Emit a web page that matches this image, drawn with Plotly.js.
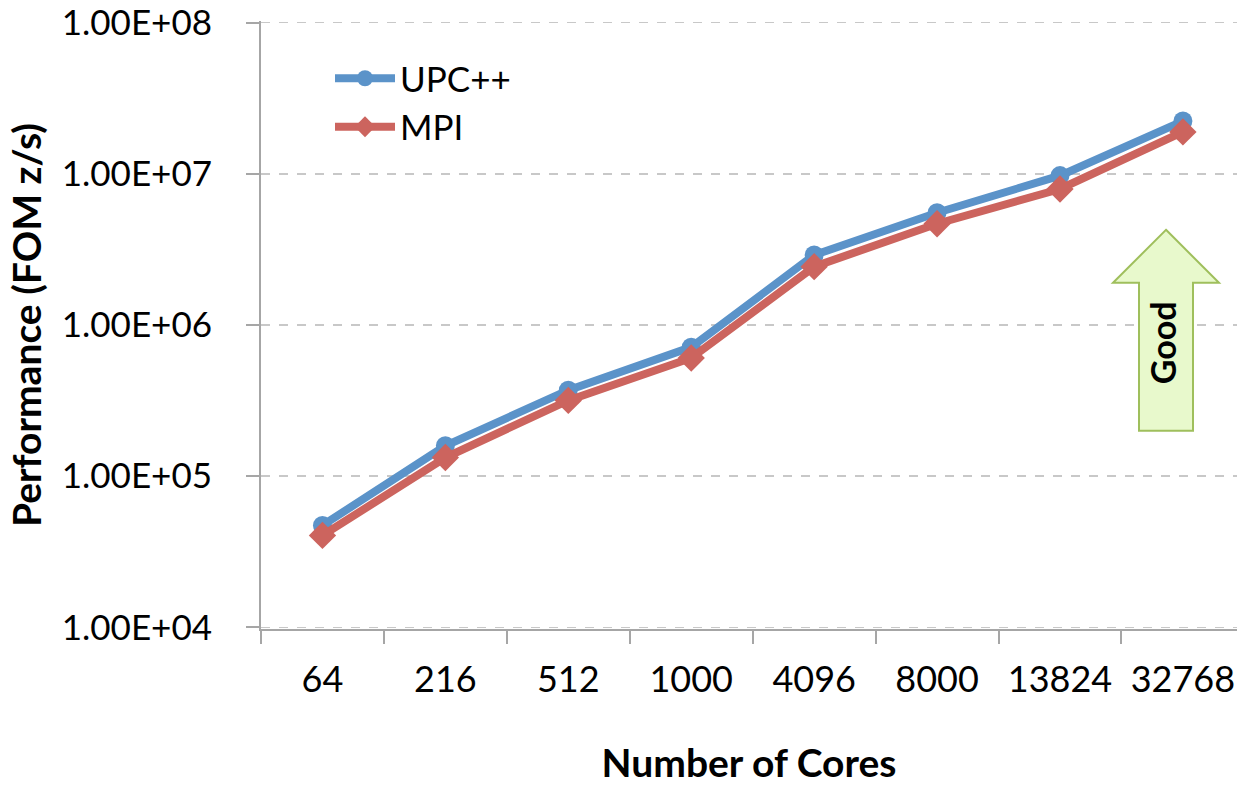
<!DOCTYPE html>
<html>
<head>
<meta charset="utf-8">
<script src="https://cdn.plot.ly/plotly-3.0.1.min.js"></script>
<style>html,body{margin:0;padding:0;background:#fff}#chart{width:1237px;height:785px}</style>
</head>
<body>
<div id="chart"></div>
<script>
var cores = ["64", "216", "512", "1000", "4096", "8000", "13824", "32768"];
var upcxx = [47300, 159000, 371000, 714000, 2900000, 5520000, 9720000, 22300000];
var mpi   = [40600, 133000, 317000, 605000, 2430000, 4670000, 7930000, 18900000];
var yTickVals = [1e4, 1e5, 1e6, 1e7, 1e8];
var yTickText = ["1.00E+04", "1.00E+05", "1.00E+06", "1.00E+07", "1.00E+08"];
var seriesNames = ["UPC++", "MPI"];

var W = 1237, H = 785;
var mL = 261, mR = 0, mT = 21, mB = 155.5;
var pw = W - mL - mR, ph = H - mT - mB;
function px(X){ return (X - mL) / pw; }
function py(Y){ return (H - mB - Y) / ph; }

var FONT = "Lato, 'Open Sans', sans-serif";

var traces = [
  {
    x: cores, y: upcxx, name: seriesNames[0], type: "scatter", mode: "lines+markers",
    line: {color: "#5b93c9", width: 8},
    marker: {symbol: "circle", size: 19, color: "#5b93c9"}
  },
  {
    x: cores, y: mpi, name: seriesNames[1], type: "scatter", mode: "lines+markers",
    line: {color: "#cc645e", width: 8},
    marker: {symbol: "diamond", size: 21, color: "#cc645e"}
  }
];

var arrowPath = "M " + px(1166) + " " + py(230) +
  " L " + px(1219) + " " + py(283) +
  " L " + px(1193) + " " + py(283) +
  " L " + px(1193) + " " + py(431) +
  " L " + px(1139) + " " + py(431) +
  " L " + px(1139) + " " + py(283) +
  " L " + px(1113) + " " + py(283) + " Z";

var layout = {
  width: W, height: H,
  margin: {l: mL, r: mR, t: mT, b: mB, pad: 0},
  paper_bgcolor: "#ffffff", plot_bgcolor: "#ffffff",
  font: {family: FONT, size: 35, color: "#000"},
  showlegend: true,
  legend: {
    x: px(330), y: py(49), xanchor: "left", yanchor: "top",
    bgcolor: "rgba(0,0,0,0)", borderwidth: 0,
    font: {family: FONT, size: 35, color: "#000"},
    itemwidth: 60, tracegroupgap: 0
  },
  xaxis: {
    type: "category",
    range: [-0.5, 7.44],
    showgrid: false,
    showline: true, linecolor: "#a6a6a6", linewidth: 2,
    ticks: "outside", tickson: "boundaries", ticklen: 13, tickcolor: "#a6a6a6", tickwidth: 2,
    tickfont: {family: FONT, size: 36, color: "#000"},
    ticklabelstandoff: 18,
    zeroline: false,
    title: {text: "<b>Number of Cores</b>", font: {family: FONT, size: 39, color: "#000"}, standoff: 56}
  },
  yaxis: {
    type: "log",
    range: [3.99, 8.01],
    tickvals: yTickVals, ticktext: yTickText,
    ticklabeloverflow: "allow",
    showgrid: true, gridcolor: "#c8c8c8", griddash: "dash", gridwidth: 1.5,
    showline: true, linecolor: "#a6a6a6", linewidth: 2,
    ticks: "outside", ticklen: 13, tickcolor: "#a6a6a6", tickwidth: 2,
    tickfont: {family: FONT, size: 35, color: "#000"},
    ticklabelstandoff: 27,
    zeroline: false,
    title: {text: "<b>Performance (FOM z/s)</b>", font: {family: FONT, size: 39, color: "#000"}, standoff: 8}
  },
  shapes: [
    {
      type: "path", xref: "paper", yref: "paper", path: arrowPath,
      fillcolor: "#e8f9cc", line: {color: "#9fbf5c", width: 2}, layer: "above"
    }
  ],
  annotations: [
    {
      xref: "paper", yref: "paper", x: px(1185), y: py(343),
      text: "<b>Good</b>", showarrow: false, textangle: -90,
      font: {family: FONT, size: 34, color: "#000"}
    }
  ]
};

Plotly.newPlot("chart", traces, layout, {displayModeBar: false, staticPlot: true});
</script>
</body>
</html>
